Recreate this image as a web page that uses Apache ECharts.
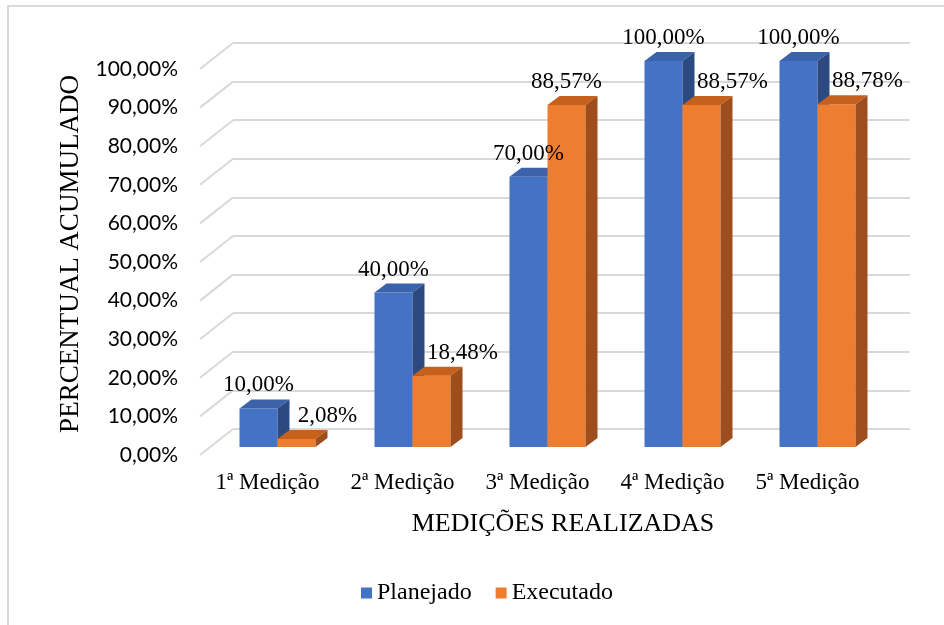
<!DOCTYPE html>
<html>
<head>
<meta charset="utf-8">
<script src="https://cdn.jsdelivr.net/npm/echarts@6/dist/echarts.min.js"></script>
<style>
  html, body { margin: 0; padding: 0; background: #fff; }
  #chart { width: 944px; height: 625px; }
</style>
</head>
<body>
<div id="chart"></div>
<script>
const categories = ['1ª Medição', '2ª Medição', '3ª Medição', '4ª Medição', '5ª Medição']
const planejado = [10, 40, 70, 100, 100]
const executado = [2.08, 18.48, 88.57, 88.57, 88.78]
const yTicks = [0, 10, 20, 30, 40, 50, 60, 70, 80, 90, 100]

const SERIF = '"Liberation Serif", "Times New Roman", serif'
const BW = 38 // bar width in px
const fmt = (v) => v.toFixed(2).replace('.', ',') + '%'

// 3d-ish column: front face + top face + right side face
function barRenderer(left, colors) {
  return function (params, api) {
    const i = api.value(0)
    const v = api.value(1)
    const top = api.coord([i, v])
    const base = api.coord([i, 0])
    const dx = 12, dy = 9
    const x0 = left ? top[0] - BW : top[0]
    const x1 = x0 + BW
    return {
      type: 'group',
      children: [
        { type: 'rect', shape: { x: x0, y: top[1], width: BW, height: base[1] - top[1] }, style: { fill: colors[0] } },
        { type: 'polygon', shape: { points: [[x0, top[1]], [x0 + dx, top[1] - dy], [x1 + dx, top[1] - dy], [x1, top[1]]] }, style: { fill: colors[1] } },
        { type: 'polygon', shape: { points: [[x1, top[1]], [x1 + dx, top[1] - dy], [x1 + dx, base[1] - dy], [x1, base[1]]] }, style: { fill: colors[2] } },
      ],
    }
  }
}

// value labels, drawn in their own series so they sit above every bar
function labelRenderer(left, shiftFn) {
  return function (params, api) {
    const i = api.value(0)
    const v = api.value(1)
    const top = api.coord([i, v])
    const x0 = left ? top[0] - BW : top[0]
    return {
      type: 'text',
      x: x0 + BW / 2 + (shiftFn ? shiftFn(params.dataIndex) : 0),
      y: top[1] - 23,
      style: { text: fmt(v), fontFamily: SERIF, fontSize: 23, fill: '#000', align: 'center', verticalAlign: 'middle' },
    }
  }
}

const chart = echarts.init(document.getElementById('chart'))

chart.setOption({
  backgroundColor: '#fff',
  animation: false,
  legend: {
    data: [
      { name: 'Planejado', icon: 'rect' },
      { name: 'Executado', icon: 'rect' },
    ],
    left: 361,
    top: 581,
    itemWidth: 11,
    itemHeight: 11,
    itemGap: 24,
    padding: 0,
    textStyle: { fontFamily: SERIF, fontSize: 24, color: '#000' },
  },
  graphic: [
    { type: 'rect', shape: { x: 8, y: 6, width: 1000, height: 1000 }, style: { fill: 'none', stroke: '#d9d9d9', lineWidth: 2 }, z: 10 },
    { type: 'text', x: 563, y: 524, style: { text: 'MEDIÇÕES REALIZADAS', fontFamily: SERIF, fontSize: 26, fill: '#000', align: 'center', verticalAlign: 'middle' } },
  ],
  grid: [
    // bar plane
    { left: 210, top: 61, width: 675, height: 386 },
    // front edge (axis labels)
    { left: 200, top: 69, width: 675, height: 386 },
    // back wall
    { left: 233, top: 43, width: 677, height: 386 },
  ],
  xAxis: [
    { gridIndex: 0, type: 'category', data: categories, show: false },
    {
      gridIndex: 1, type: 'category', data: categories,
      axisLine: { show: false }, axisTick: { show: false },
      axisLabel: { interval: 0, margin: 16, fontFamily: SERIF, fontSize: 23, color: '#000' },
    },
    { gridIndex: 2, type: 'category', data: categories, show: false },
  ],
  yAxis: [
    {
      gridIndex: 0, type: 'value', min: 0, max: 100, interval: 10,
      axisLine: { show: false }, axisTick: { show: false }, axisLabel: { show: false }, splitLine: { show: false },
      name: 'PERCENTUAL ACUMULADO', nameLocation: 'middle', nameRotate: 90, nameGap: 126,
      nameTextStyle: { fontFamily: SERIF, fontSize: 27, color: '#000' },
    },
    {
      gridIndex: 1, type: 'value', min: 0, max: 100, interval: 10,
      axisLine: { show: false }, axisTick: { show: false }, splitLine: { show: false },
      axisLabel: { margin: 22, fontFamily: 'Lato, "Open Sans", sans-serif', fontSize: 21, color: '#000', formatter: (v) => fmt(v) },
    },
    {
      gridIndex: 2, type: 'value', min: 0, max: 100, interval: 10,
      axisLine: { show: false }, axisTick: { show: false }, axisLabel: { show: false },
      splitLine: { show: true, lineStyle: { color: '#d9d9d9', width: 2 } },
    },
  ],
  series: [
    {
      // floor-side diagonal gridlines (front edge to back wall)
      type: 'custom',
      xAxisIndex: 1, yAxisIndex: 1,
      silent: true,
      z: 1,
      data: yTicks.map((t) => [0, t]),
      renderItem: (params, api) => {
        const p = api.coord([0, api.value(1)])
        const x = params.coordSys.x
        return { type: 'line', shape: { x1: x, y1: p[1], x2: x + 33, y2: p[1] - 26 }, style: { stroke: '#d9d9d9', lineWidth: 2 } }
      },
    },
    {
      name: 'Planejado',
      type: 'custom',
      xAxisIndex: 0, yAxisIndex: 0,
      z: 3,
      itemStyle: { color: '#4472C4' },
      data: planejado.map((v, i) => [i, v]),
      renderItem: barRenderer(true, ['#4472C4', '#3b62ab', '#2c4a80']),
    },
    {
      name: 'Executado',
      type: 'custom',
      xAxisIndex: 0, yAxisIndex: 0,
      z: 4,
      itemStyle: { color: '#ED7D31' },
      data: executado.map((v, i) => [i, v]),
      renderItem: barRenderer(false, ['#ED7D31', '#c5611d', '#9d4e1c']),
    },
    {
      type: 'custom',
      xAxisIndex: 0, yAxisIndex: 0,
      z: 5,
      silent: true,
      data: planejado.map((v, i) => [i, v]),
      renderItem: labelRenderer(true, null),
    },
    {
      type: 'custom',
      xAxisIndex: 0, yAxisIndex: 0,
      z: 5,
      silent: true,
      data: executado.map((v, i) => [i, v]),
      renderItem: labelRenderer(false, (idx) => (planejado[idx] > executado[idx] ? 31 : 0)),
    },
  ],
})
</script>
</body>
</html>
